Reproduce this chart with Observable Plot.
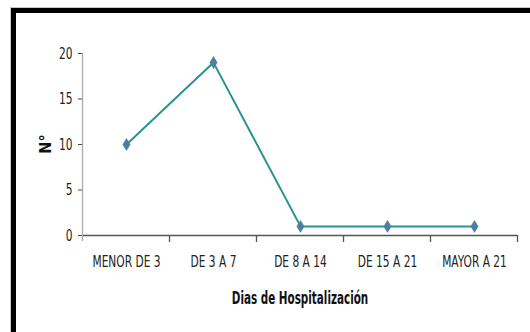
<!DOCTYPE html>
<html>
<head>
<meta charset="utf-8">
<script src="https://cdn.jsdelivr.net/npm/d3@7"></script>
<script src="https://cdn.jsdelivr.net/npm/@observablehq/plot@0.6"></script>
<style>
  html, body { margin: 0; padding: 0; background: #fff; }
  #wrap { position: relative; width: 530px; height: 332px; overflow: hidden; }
  #frame {
    position: absolute; left: 11px; top: 8px; width: 600px; height: 400px;
    border-top: 5px solid #000; border-left: 5px solid #000;
    box-shadow: -1px -1px 0 #c8c8c8;
    pointer-events: none;
  }
  svg text { font-family: "Liberation Sans Narrow", "DejaVu Sans Condensed", sans-serif; }
</style>
</head>
<body>
<div id="wrap"><div id="frame"></div></div>
<script>
// Hospital stay length groups and patient counts
const categories = ["MENOR DE 3", "DE 3 A 7", "DE 8 A 14", "DE 15 A 21", "MAYOR A 21"];
const counts = [10, 19, 1, 1, 1];
const yTicks = [0, 5, 10, 15, 20];

const data = categories.map((c, i) => ({ grupo: c, n: counts[i] }));

// Tall, narrow diamond marker
const tallDiamond = {
  draw(context, size) {
    const h = Math.sqrt(size) * 0.75, w = h * 0.62;
    context.moveTo(0, -h);
    context.lineTo(w, 0);
    context.lineTo(0, h);
    context.lineTo(-w, 0);
    context.closePath();
  }
};

const chart = Plot.plot({
  width: 530,
  height: 332,
  marginLeft: 82,
  marginRight: 13,
  marginTop: 53,
  marginBottom: 97,
  style: { fontSize: "16px", color: "#222", background: "transparent", overflow: "visible" },
  x: { type: "point", domain: categories, padding: 0.5, label: null },
  y: { domain: [0, 20], label: null, ticks: yTicks },
  marks: [
    Plot.axisY({ ticks: yTicks, tickSize: 4, tickPadding: 6, stroke: "#444", fontSize: 16, label: null }),
    Plot.axisX({ tickSize: 0, tickPadding: 20, fontSize: 16, label: null }),
    Plot.ruleY([0], { stroke: "#555", strokeWidth: 1.3 }),
    Plot.line(data, { x: "grupo", y: "n", stroke: "#2a9292", strokeWidth: 2 }),
    Plot.dot(data, { x: "grupo", y: "n", symbol: tallDiamond, r: 4.5, fill: "#4a7fa0", stroke: "#4a7fa0", strokeWidth: 0.5 })
  ]
});

const wrap = document.getElementById("wrap");
wrap.insertBefore(chart, wrap.firstChild);
chart.style.position = "absolute";
chart.style.left = "0";
chart.style.top = "0";

const svg = d3.select(chart);

// Narrow the tick labels horizontally
svg.selectAll("[aria-label='x-axis tick label'] text, [aria-label='y-axis tick label'] text")
  .each(function () {
    const t = this.getAttribute("transform") || "";
    this.setAttribute("transform", t + " scale(0.74,1)");
  });

// Axis lines and category separators drawn with the plot's scales
const sx = chart.scale("x"), sy = chart.scale("y");
const step = sx.apply(categories[1]) - sx.apply(categories[0]);
const left = sx.apply(categories[0]) - step / 2;
const g = svg.append("g");
g.append("line")
  .attr("x1", left).attr("x2", left)
  .attr("y1", sy.apply(20)).attr("y2", sy.apply(0) + 6)
  .attr("stroke", "#aaa").attr("stroke-width", 1.3);
categories.forEach((c, i) => {
  const x = left + step * (i + 1);
  g.append("line").attr("x1", x).attr("x2", x)
    .attr("y1", sy.apply(0)).attr("y2", sy.apply(0) + 7)
    .attr("stroke", "#555").attr("stroke-width", 1.3);
});

// Axis titles
g.append("text")
  .attr("transform", `translate(${left + step * categories.length / 2},304) scale(0.68,1)`)
  .attr("text-anchor", "middle").attr("font-weight", "bold").attr("font-size", 17)
  .attr("fill", "#111")
  .text("Dias de Hospitalización");
g.append("text")
  .attr("transform", `translate(51,${sy.apply(10)}) rotate(-90)`)
  .attr("text-anchor", "middle").attr("font-weight", "bold").attr("font-size", 16)
  .attr("fill", "#111")
  .text("N°");
</script>
</body>
</html>
